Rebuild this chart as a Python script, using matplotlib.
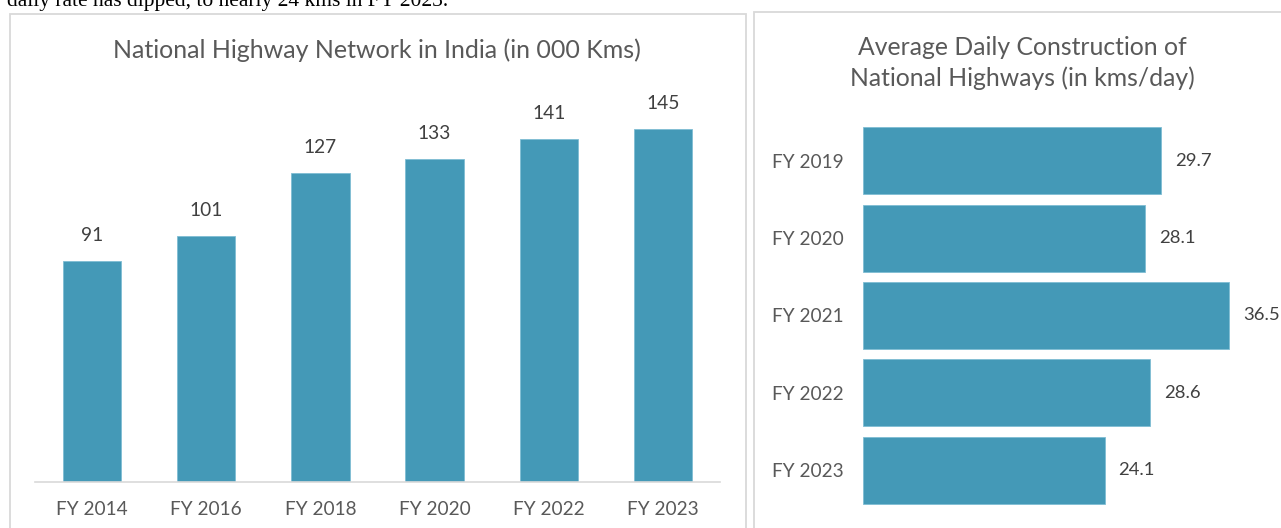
import matplotlib
matplotlib.use("Agg")
import matplotlib.pyplot as plt
from matplotlib.patches import Rectangle

# left chart: national highway network (000 km)
net_years = ["FY 2014", "FY 2016", "FY 2018", "FY 2020", "FY 2022", "FY 2023"]
net_km = [91, 101, 127, 133, 141, 145]

# right chart: average daily construction (km/day)
daily_years = ["FY 2019", "FY 2020", "FY 2021", "FY 2022", "FY 2023"]
daily_km = [29.7, 28.1, 36.5, 28.6, 24.1]

BAR = "#4499B7"
EDGE = "#7FBDD3"
TXT = "#595959"
VAL = "#404040"
GRID = "#D9D9D9"
W, H = 1281, 528

plt.rcParams["font.family"] = ["Lato", "DejaVu Sans"]

fig = plt.figure(figsize=(W / 100, H / 100), dpi=100)

def fx(px):
    return px / W

def fy(py):
    return 1 - py / H

# text from the page above, cut off by the crop as in the source
fig.text(fx(7), fy(6), "daily rate has dipped, to nearly 24 kms in FY 2023.",
         family="Liberation Serif", fontsize=15.5, color="black", va="baseline")

# panel borders
fig.patches.append(Rectangle((fx(10), fy(540)), fx(736), fy(14) - fy(540),
                             transform=fig.transFigure, fill=False,
                             edgecolor=GRID, lw=1.3))
fig.patches.append(Rectangle((fx(754), fy(540)), fx(540), fy(12) - fy(540),
                             transform=fig.transFigure, fill=False,
                             edgecolor=GRID, lw=1.3))

# ---- left: vertical bars
ax1 = fig.add_axes([fx(35), fy(482), fx(720 - 35), fy(93) - fy(482)])
x = range(len(net_years))
ax1.bar(x, net_km, width=0.51, color=BAR, edgecolor=EDGE, lw=0.6)
for i, v in enumerate(net_km):
    ax1.text(i, v + 7, str(v), ha="center", va="bottom", fontsize=13.8, color=VAL)
ax1.set_xlim(-0.5, len(net_years) - 0.5)
ax1.set_ylim(0, 160)
ax1.set_xticks(list(x))
ax1.set_xticklabels(net_years, fontsize=13.7, color=TXT)
ax1.tick_params(axis="x", length=0, pad=14)
ax1.set_yticks([])
for s in ["top", "left", "right"]:
    ax1.spines[s].set_visible(False)
ax1.spines["bottom"].set_color(GRID)
ax1.spines["bottom"].set_linewidth(1.2)
fig.text(fx(377), fy(50), "National Highway Network in India (in 000 Kms)",
         ha="center", va="center", fontsize=18, color=TXT)

# ---- right: horizontal bars
ax2 = fig.add_axes([fx(863), fy(509), fx(1274 - 863), fy(122) - fy(509)])
y = range(len(daily_years))
ax2.barh(y, daily_km, height=0.867, color=BAR, edgecolor=EDGE, lw=0.6)
for i, v in enumerate(daily_km):
    ax2.text(v + 1.4, i, f"{v:.1f}", ha="left", va="center", fontsize=13.3,
             color=VAL, clip_on=False)
ax2.set_ylim(len(daily_years) - 0.5, -0.5)
ax2.set_xlim(0, 41)
ax2.set_yticks(list(y))
ax2.set_yticklabels(daily_years, fontsize=13.7, color=TXT)
ax2.tick_params(axis="y", length=0, pad=14)
ax2.set_xticks([])
for s in ax2.spines.values():
    s.set_visible(False)
fig.text(fx(1022), fy(63), "Average Daily Construction of\nNational Highways (in kms/day)",
         ha="center", va="center", fontsize=17.8, color=TXT, linespacing=1.35)

fig.savefig("out.png", dpi=100)
